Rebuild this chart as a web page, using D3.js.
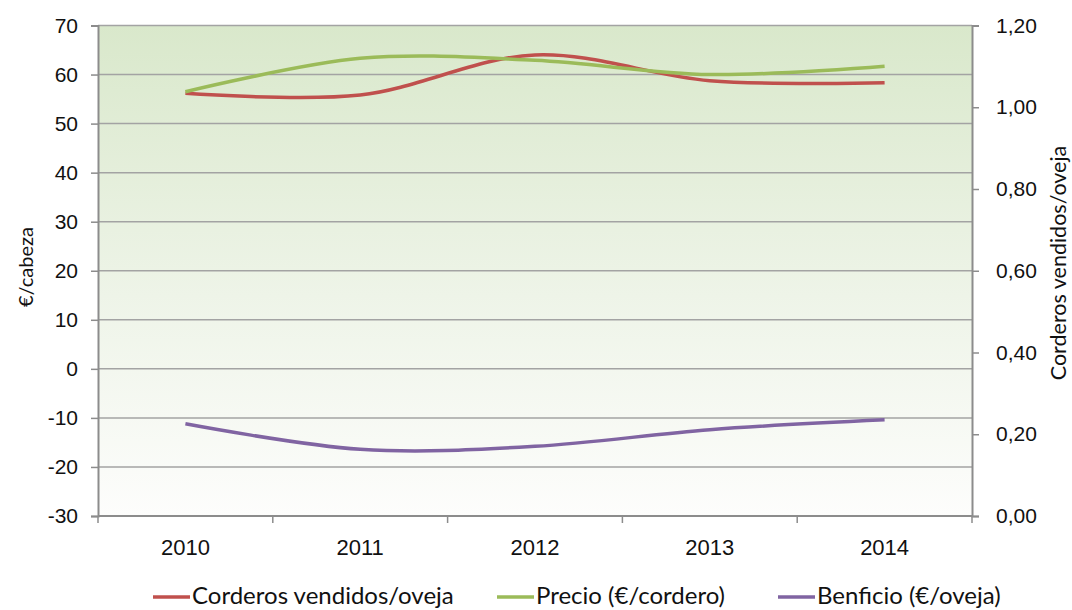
<!DOCTYPE html>
<html>
<head>
<meta charset="utf-8">
<script src="https://cdn.jsdelivr.net/npm/d3@7"></script>
<style>
  body { margin: 0; background: #fff; }
  svg { font-family: Lato, "Open Sans", sans-serif; }
</style>
</head>
<body>
<svg id="chart"></svg>
<script>
// Datos
const years = ["2010", "2011", "2012", "2013", "2014"];
const corderos = [1.034, 1.030, 1.128, 1.065, 1.060];   // eje derecho
const precio = [56.5, 63.3, 62.9, 60.0, 61.7];          // eje izquierdo
const beneficio = [-11.2, -16.4, -15.8, -12.4, -10.4];  // eje izquierdo
const leftTicks = [-30, -20, -10, 0, 10, 20, 30, 40, 50, 60, 70];
const rightTicks = [0, 0.2, 0.4, 0.6, 0.8, 1.0, 1.2];

const width = 1072, height = 610;
const plotLeft = 98, plotRight = 972, plotTop = 25.5, plotBottom = 516;

const svg = d3.select("#chart").attr("width", width).attr("height", height);

// Fondo degradado
const defs = svg.append("defs");
const grad = defs.append("linearGradient").attr("id", "bg")
    .attr("x1", 0).attr("y1", 0).attr("x2", 0).attr("y2", 1);
grad.append("stop").attr("offset", "0%").attr("stop-color", "#d9e8cb");
grad.append("stop").attr("offset", "55%").attr("stop-color", "#eef4e8");
grad.append("stop").attr("offset", "100%").attr("stop-color", "#fdfdfc");

svg.append("rect")
    .attr("x", plotLeft).attr("y", plotTop)
    .attr("width", plotRight - plotLeft).attr("height", plotBottom - plotTop)
    .attr("fill", "url(#bg)");

// Escalas
const x = d3.scaleBand().domain(years).range([plotLeft, plotRight]);
const yL = d3.scaleLinear().domain([-30, 70]).range([plotBottom, plotTop]);
const yR = d3.scaleLinear().domain([0, 1.2]).range([plotBottom, plotTop]);
const cx = d => x(d) + x.bandwidth() / 2;

// Rejilla
svg.append("g").selectAll("line").data(leftTicks).join("line")
    .attr("x1", plotLeft).attr("x2", plotRight)
    .attr("y1", d => yL(d)).attr("y2", d => yL(d))
    .attr("stroke", "#a3a3a3").attr("stroke-width", 1.5);

// Ejes
const fmtR = d => d3.format(".2f")(d).replace(".", ",");

const axL = svg.append("g").attr("transform", `translate(${plotLeft},0)`)
    .call(d3.axisLeft(yL).tickValues(leftTicks).tickFormat(d => String(d)).tickSize(7).tickPadding(13));
const axR = svg.append("g").attr("transform", `translate(${plotRight},0)`)
    .call(d3.axisRight(yR).tickValues(rightTicks).tickFormat(fmtR).tickSize(7).tickPadding(17));
const axB = svg.append("g").attr("transform", `translate(0,${plotBottom})`)
    .call(d3.axisBottom(x).tickSize(0).tickPadding(23));

// marcas entre categorías
svg.append("g").selectAll("line").data(d3.range(years.length + 1)).join("line")
    .attr("x1", i => plotLeft + i * x.step()).attr("x2", i => plotLeft + i * x.step())
    .attr("y1", plotBottom).attr("y2", plotBottom + 7)
    .attr("stroke", "#8c8c8c").attr("stroke-width", 1.5);

[axL, axR, axB].forEach(g => {
    g.select(".domain").attr("stroke", "#8c8c8c").attr("stroke-width", 2);
    g.selectAll(".tick line").attr("stroke", "#8c8c8c").attr("stroke-width", 1.5);
    g.selectAll("text").attr("font-size", 21).attr("fill", "#111");
});
axB.selectAll("text").attr("font-size", 22);
axB.select(".domain").attr("d", `M${plotLeft},0H${plotRight}`);

// Títulos de ejes
svg.append("text")
    .attr("transform", "translate(33,267) rotate(-90)")
    .attr("text-anchor", "middle").attr("font-size", 20).attr("fill", "#111")
    .text("€/cabeza");
svg.append("text")
    .attr("transform", "translate(1066,263) rotate(-90)")
    .attr("text-anchor", "middle").attr("font-size", 21.5).attr("fill", "#111")
    .text("Corderos vendidos/oveja");

// Líneas
const series = [
    { name: "Corderos vendidos/oveja", values: corderos, scale: yR, color: "#c0504d" },
    { name: "Precio (€/cordero)", values: precio, scale: yL, color: "#9bbb59" },
    { name: "Benficio (€/oveja)", values: beneficio, scale: yL, color: "#8064a2" }
];

series.forEach(s => {
    const line = d3.line()
        .x((d, i) => cx(years[i]))
        .y(d => s.scale(d))
        .curve(d3.curveCardinal.tension(0));
    svg.append("path")
        .datum(s.values)
        .attr("fill", "none")
        .attr("stroke", s.color)
        .attr("stroke-width", 3.5)
        .attr("d", line);
});

// Leyenda
const legendX = [153, 497, 778];
const lg = svg.append("g");
series.forEach((s, i) => {
    lg.append("line")
        .attr("x1", legendX[i]).attr("x2", legendX[i] + 37)
        .attr("y1", 597).attr("y2", 597)
        .attr("stroke", s.color).attr("stroke-width", 3.5);
    lg.append("text")
        .attr("x", legendX[i] + 39).attr("y", 604)
        .attr("font-size", 24).attr("fill", "#111")
        .text(s.name);
});
</script>
</body>
</html>
